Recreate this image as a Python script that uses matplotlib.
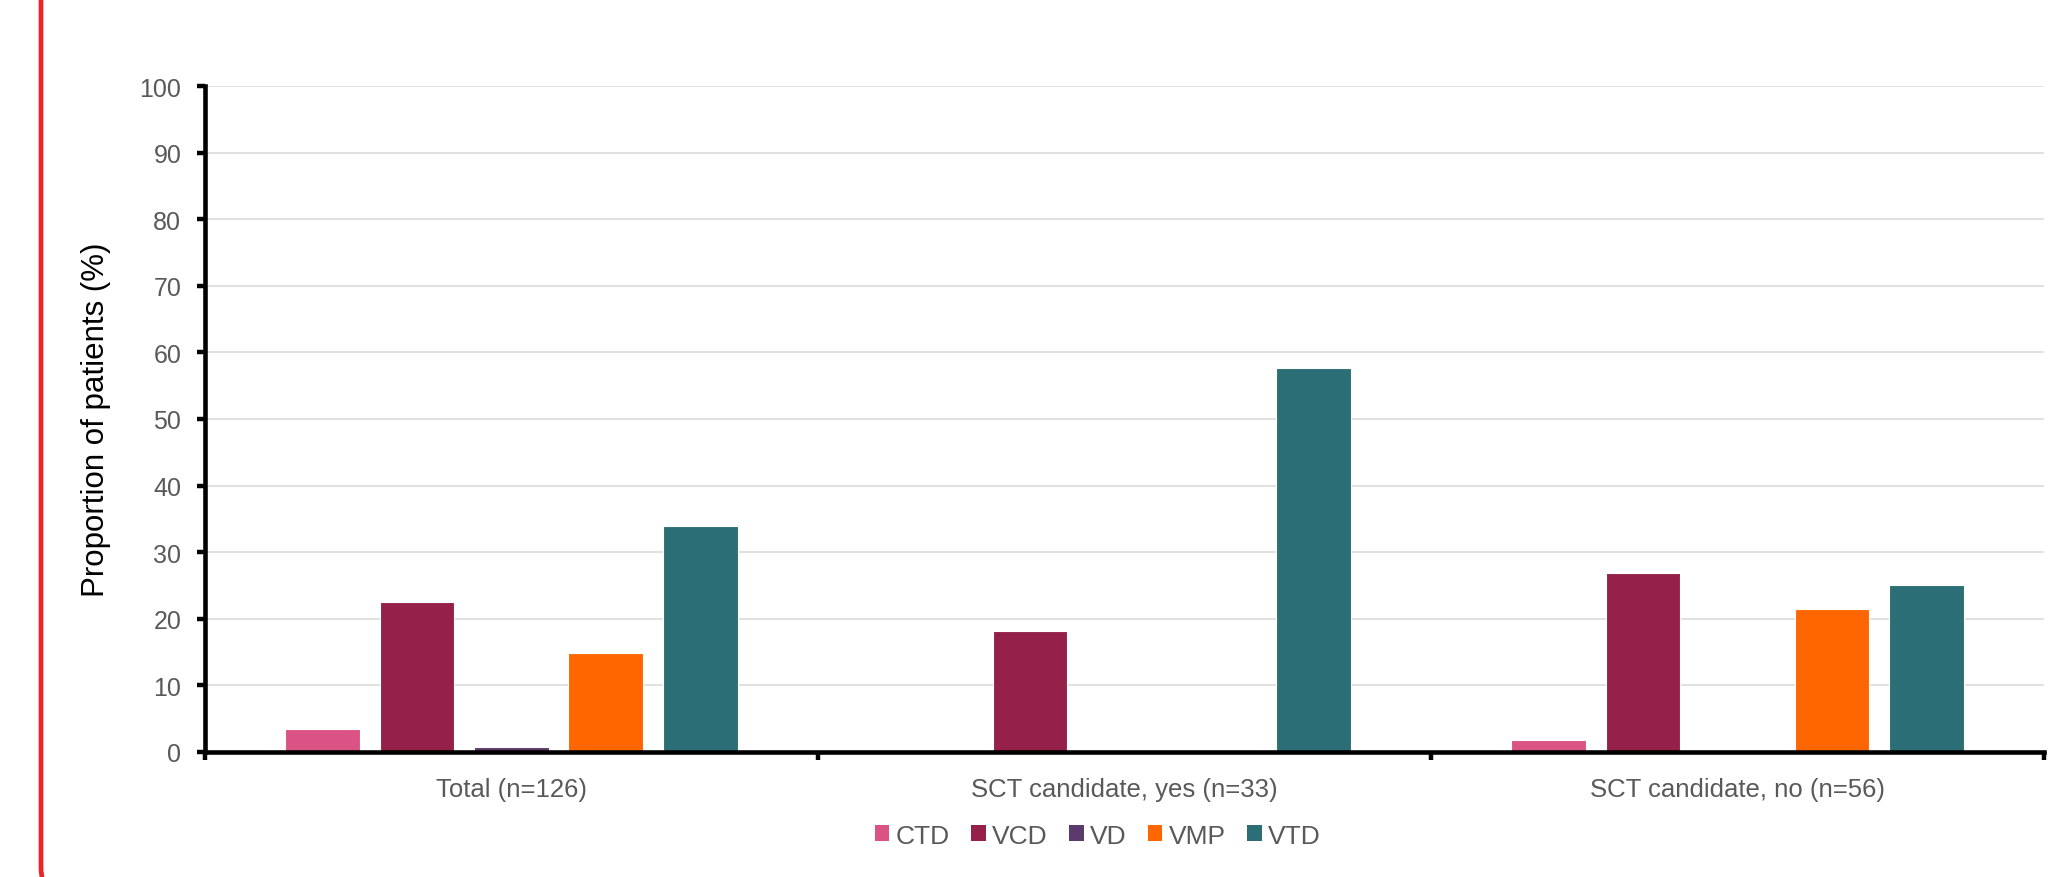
import numpy as np
import matplotlib
matplotlib.use('Agg')
import matplotlib.pyplot as plt
from matplotlib.patches import Patch, FancyBboxPatch
from matplotlib.transforms import IdentityTransform

plt.rcParams['font.family'] = ['Liberation Sans', 'DejaVu Sans']

groups = ["Total (n=126)", "SCT candidate, yes (n=33)", "SCT candidate, no (n=56)"]
regimens = ["CTD", "VCD", "VD", "VMP", "VTD"]
colors = ["#DB5385", "#95204A", "#5C3A6E", "#FF6600", "#2B6E76"]

# proportion of patients (%) per regimen, one value per group
ctd = [3.4, 0.0, 1.8]
vcd = [22.5, 18.2, 26.8]
vd = [0.8, 0.0, 0.0]
vmp = [14.8, 0.0, 21.4]
vtd = [33.9, 57.6, 25.0]
series = [ctd, vcd, vd, vmp, vtd]

yticks = list(range(0, 101, 10))

grey = "#595959"

fig = plt.figure(figsize=(20.58, 8.78), dpi=100)
ax = fig.add_axes([0.0996, 0.1424, 0.8936, 0.7585])

x = np.arange(len(groups))
step = 0.154
width = 0.122
for i, (vals, col) in enumerate(zip(series, colors)):
    offs = (i - 2) * step
    ax.bar(x + offs, vals, width, color=col, edgecolor="white",
           linewidth=0.8, zorder=3)

ax.set_xlim(-0.5, 2.5)
ax.set_ylim(0, 100)
ax.set_yticks(yticks)
ax.set_yticklabels([str(t) for t in yticks])
ax.yaxis.grid(True, color="#D9D9D9", linewidth=1.1, zorder=0)

# category boundaries carry the tick marks, names sit on minor ticks
ax.set_xticks([-0.5, 0.5, 1.5, 2.5])
ax.set_xticklabels([])
ax.set_xticks(x, minor=True)
ax.set_xticklabels(groups, minor=True)
ax.tick_params(axis="x", which="major", direction="out", length=6,
               width=3.2, color="black")
ax.tick_params(axis="x", which="minor", length=0, pad=18,
               labelsize=18.5, labelcolor=grey)
ax.tick_params(axis="y", direction="out", length=6, width=3.2,
               color="black", pad=11, labelsize=18, labelcolor=grey)

for side in ["top", "right"]:
    ax.spines[side].set_visible(False)
for side in ["left", "bottom"]:
    ax.spines[side].set_linewidth(3.3)
    ax.spines[side].set_color("black")
    ax.spines[side].set_zorder(4)

fig.text(0.0465, 0.5215, "Proportion of patients (%)", rotation=90,
         ha="center", va="center", fontsize=22.5, color="black")

handles = [Patch(facecolor=c, edgecolor="none") for c in colors]
fig.legend(handles, regimens, loc="center", bbox_to_anchor=(0.5335, 0.047),
           ncol=5, frameon=False, fontsize=19, labelcolor=grey,
           handlelength=0.55, handleheight=0.55, handletextpad=0.25,
           columnspacing=0.8)

# red rounded frame, only its left side is in view
frame = FancyBboxPatch((41, -25), 3000, 1000,
                       boxstyle="round,pad=0,rounding_size=35",
                       transform=IdentityTransform(), facecolor="none",
                       edgecolor="#EE2229", linewidth=3.4)
fig.add_artist(frame)

fig.savefig("out.png", dpi=100)
